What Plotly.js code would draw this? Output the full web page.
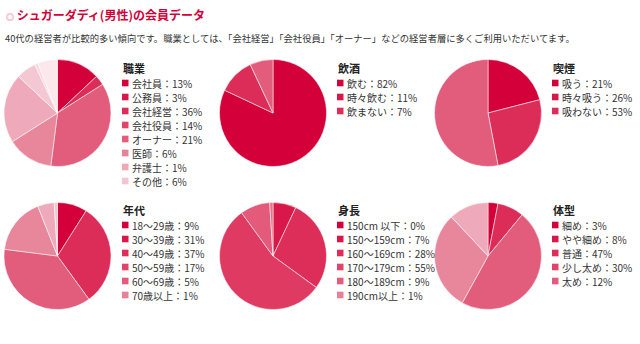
<!DOCTYPE html>
<html>
<head>
<meta charset="utf-8">
<script src="https://cdn.plot.ly/plotly-3.0.1.min.js"></script>
<style>
html,body{margin:0;padding:0;background:#fff;}
#chart{width:640px;height:344px;}
</style>
</head>
<body>
<div id="chart"></div>
<script>
// ---- data ----
const chartTitle = 'シュガーダディ(男性)の会員データ';
const subtitle = '40代の経営者が比較的多い傾向です。職業としては、「会社経営」「会社役員」「オーナー」などの経営者層に多くご利用いただいてます。';

const jobTitle = '職業';
const jobLabels = ['会社員','公務員','会社経営','会社役員','オーナー','医師','弁護士','その他'];
const jobValues = [13,3,36,14,21,6,1,6];

const drinkTitle = '飲酒';
const drinkLabels = ['飲む','時々飲む','飲まない'];
const drinkValues = [82,11,7];

const smokeTitle = '喫煙';
const smokeLabels = ['吸う','時々吸う','吸わない'];
const smokeValues = [21,26,53];

const ageTitle = '年代';
const ageLabels = ['18～29歳','30～39歳','40～49歳','50～59歳','60～69歳','70歳以上'];
const ageValues = [9,31,37,17,5,1];

const heightTitle = '身長';
const heightLabels = ['150cm 以下','150～159cm','160～169cm','170～179cm','180～189cm','190cm以上'];
const heightValues = [0,7,28,55,9,1];

const bodyTitle = '体型';
const bodyLabels = ['細め','やや細め','普通','少し太め','太め'];
const bodyValues = [3,8,47,30,12];

// ---- styles ----
const W = 640, H = 344;
const FONT = '"Noto Sans CJK JP", "Noto Sans", sans-serif';
const pieColors = ['#d4003a','#dc2c58','#e25c7c','#e8869c','#eeaabb','#f4c8d2','#f8d8e0','#fce8ec'];
const heightPieColors = ['#d4003a','#d81848','#dc2e58','#de3a62','#e45a7a','#e8708c'];
const legendColors = ['#d4003a','#d8174a','#dc2e58','#e04468','#e45c7c','#e8809a','#eea8b8','#f4c4d0'];

const panels = [
  {title: jobTitle, labels: jobLabels, values: jobValues, cx: 57.5, cy: 113, lx: 122, ty: 68, colors: pieColors},
  {title: drinkTitle, labels: drinkLabels, values: drinkValues, cx: 273, cy: 113, lx: 337, ty: 68, colors: pieColors},
  {title: smokeTitle, labels: smokeLabels, values: smokeValues, cx: 488, cy: 113, lx: 552, ty: 68, colors: pieColors},
  {title: ageTitle, labels: ageLabels, values: ageValues, cx: 57.5, cy: 256, lx: 122, ty: 210, colors: pieColors},
  {title: heightTitle, labels: heightLabels, values: heightValues, cx: 273, cy: 256, lx: 337, ty: 210, colors: heightPieColors},
  {title: bodyTitle, labels: bodyLabels, values: bodyValues, cx: 488, cy: 256, lx: 552, ty: 210, colors: pieColors}
];
const R = 53.5;
const px = x => x / W;
const py = y => 1 - y / H;

const traces = [];
const annotations = [];
const shapes = [];

panels.forEach(p => {
  traces.push({
    type: 'pie',
    labels: p.labels,
    values: p.values,
    sort: false,
    direction: 'clockwise',
    rotation: 0,
    textinfo: 'none',
    hoverinfo: 'skip',
    showlegend: false,
    marker: {colors: p.colors.slice(0, p.values.length), line: {color: 'rgba(255,255,255,0.75)', width: 0.7}},
    domain: {x: [px(p.cx - R), px(p.cx + R)], y: [py(p.cy + R), py(p.cy - R)]}
  });
  annotations.push({
    xref: 'paper', yref: 'paper', x: px(p.lx - 1), y: py(p.ty),
    xanchor: 'left', yanchor: 'middle', showarrow: false,
    text: '<b>' + p.title + '</b>',
    font: {family: FONT, size: 11, color: '#222'}
  });
  p.labels.forEach((lab, i) => {
    const yy = p.ty + 15 + 14 * i;
    shapes.push({
      type: 'rect', xref: 'paper', yref: 'paper',
      x0: px(p.lx), x1: px(p.lx + 6.5), y0: py(yy + 3.3), y1: py(yy - 3.3),
      line: {width: 0}, fillcolor: legendColors[i]
    });
    annotations.push({
      xref: 'paper', yref: 'paper', x: px(p.lx + 8), y: py(yy),
      xanchor: 'left', yanchor: 'middle', showarrow: false,
      text: lab + '：' + p.values[i] + '%',
      font: {family: FONT, size: 10, color: '#333'}
    });
  });
});

annotations.push({
  xref: 'paper', yref: 'paper', x: px(4), y: py(15),
  xanchor: 'left', yanchor: 'middle', showarrow: false,
  text: '<span style="font-size:8px;color:#e0507a">◎</span> <b>' + chartTitle + '</b>',
  font: {family: FONT, size: 12, color: '#d4003a'}
});
annotations.push({
  xref: 'paper', yref: 'paper', x: px(3), y: py(38),
  xanchor: 'left', yanchor: 'middle', showarrow: false,
  text: subtitle,
  font: {family: FONT, size: 9.3, color: '#333'}
});

Plotly.newPlot('chart', traces, {
  width: W, height: H,
  margin: {l: 0, r: 0, t: 0, b: 0},
  paper_bgcolor: '#fff',
  plot_bgcolor: '#fff',
  showlegend: false,
  annotations: annotations,
  shapes: shapes
}, {staticPlot: true, displayModeBar: false});
</script>
</body>
</html>
